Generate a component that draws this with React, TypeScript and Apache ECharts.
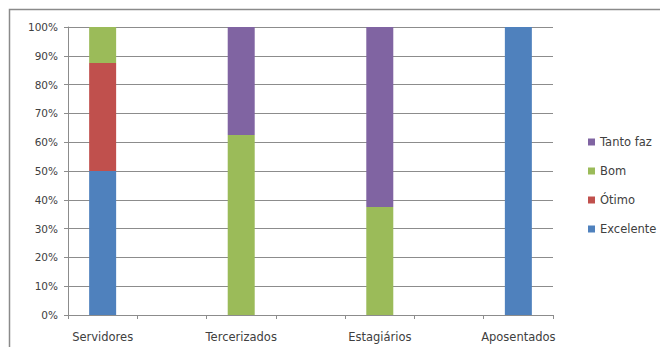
import React, { useEffect, useRef } from "react";
import * as echarts from "echarts";

const categories = ["Servidores", "", "Tercerizados", "", "Estagiários", "", "Aposentados"];
const excelente = [50, null, 0, null, 0, null, 100];
const otimo = [37.5, null, 0, null, 0, null, 0];
const bom = [12.5, null, 62.5, null, 37.5, null, 0];
const tantoFaz = [0, null, 37.5, null, 62.5, null, 0];
const legendOrder = ["Tanto faz", "Bom", "Ótimo", "Excelente"];

const FONT = "DejaVu Sans";

export default function App() {
  const ref = useRef<HTMLDivElement>(null);
  useEffect(() => {
    const chart = echarts.init(ref.current!, null, { renderer: "svg" });
    const mk = (name: string, data: (number | null)[], color: string) => ({
      name,
      type: "bar",
      stack: "total",
      data,
      barWidth: 27,
      itemStyle: { color },
      emphasis: { disabled: true },
    });
    chart.setOption({
      animation: false,
      backgroundColor: "#ffffff",
      textStyle: { fontFamily: FONT },
      graphic: [
        {
          type: "rect",
          shape: { x: 9.5, y: 9.5, width: 700, height: 400 },
          style: { fill: "none", stroke: "#8a8a8a", lineWidth: 1.5 },
          silent: true,
        },
      ],
      grid: { left: 68, right: 107, top: 27, bottom: 32, containLabel: false },
      legend: {
        orient: "vertical",
        left: 583,
        top: 131,
        itemWidth: 7,
        itemHeight: 7,
        itemGap: 17,
        icon: "rect",
        data: legendOrder,
        textStyle: { fontSize: 11.5, color: "#404040", fontFamily: FONT },
      },
      xAxis: {
        type: "category",
        data: categories,
        boundaryGap: true,
        axisLine: { lineStyle: { color: "#8c8c8c" } },
        axisTick: { show: true, length: 4, alignWithLabel: false, interval: 0, lineStyle: { color: "#8c8c8c" } },
        axisLabel: { interval: 0, fontSize: 11.5, color: "#404040", margin: 16, fontFamily: FONT },
        splitLine: { show: false },
      },
      yAxis: {
        type: "value",
        min: 0,
        max: 100,
        interval: 10,
        axisLine: { show: true, lineStyle: { color: "#8c8c8c" } },
        axisTick: { show: true, length: 4, lineStyle: { color: "#8c8c8c" } },
        axisLabel: { formatter: "{value}%", fontSize: 10.5, color: "#404040", margin: 10, fontFamily: FONT },
        splitLine: { show: true, lineStyle: { color: "#8c8c8c" } },
      },
      series: [
        mk("Excelente", excelente, "#4f81bd"),
        mk("Ótimo", otimo, "#c0504d"),
        mk("Bom", bom, "#9bbb59"),
        mk("Tanto faz", tantoFaz, "#8064a2"),
      ],
    });
    return () => chart.dispose();
  }, []);
  return <div ref={ref} style={{ width: 660, height: 347, position: "absolute", left: 0, top: 0 }} />;
}
